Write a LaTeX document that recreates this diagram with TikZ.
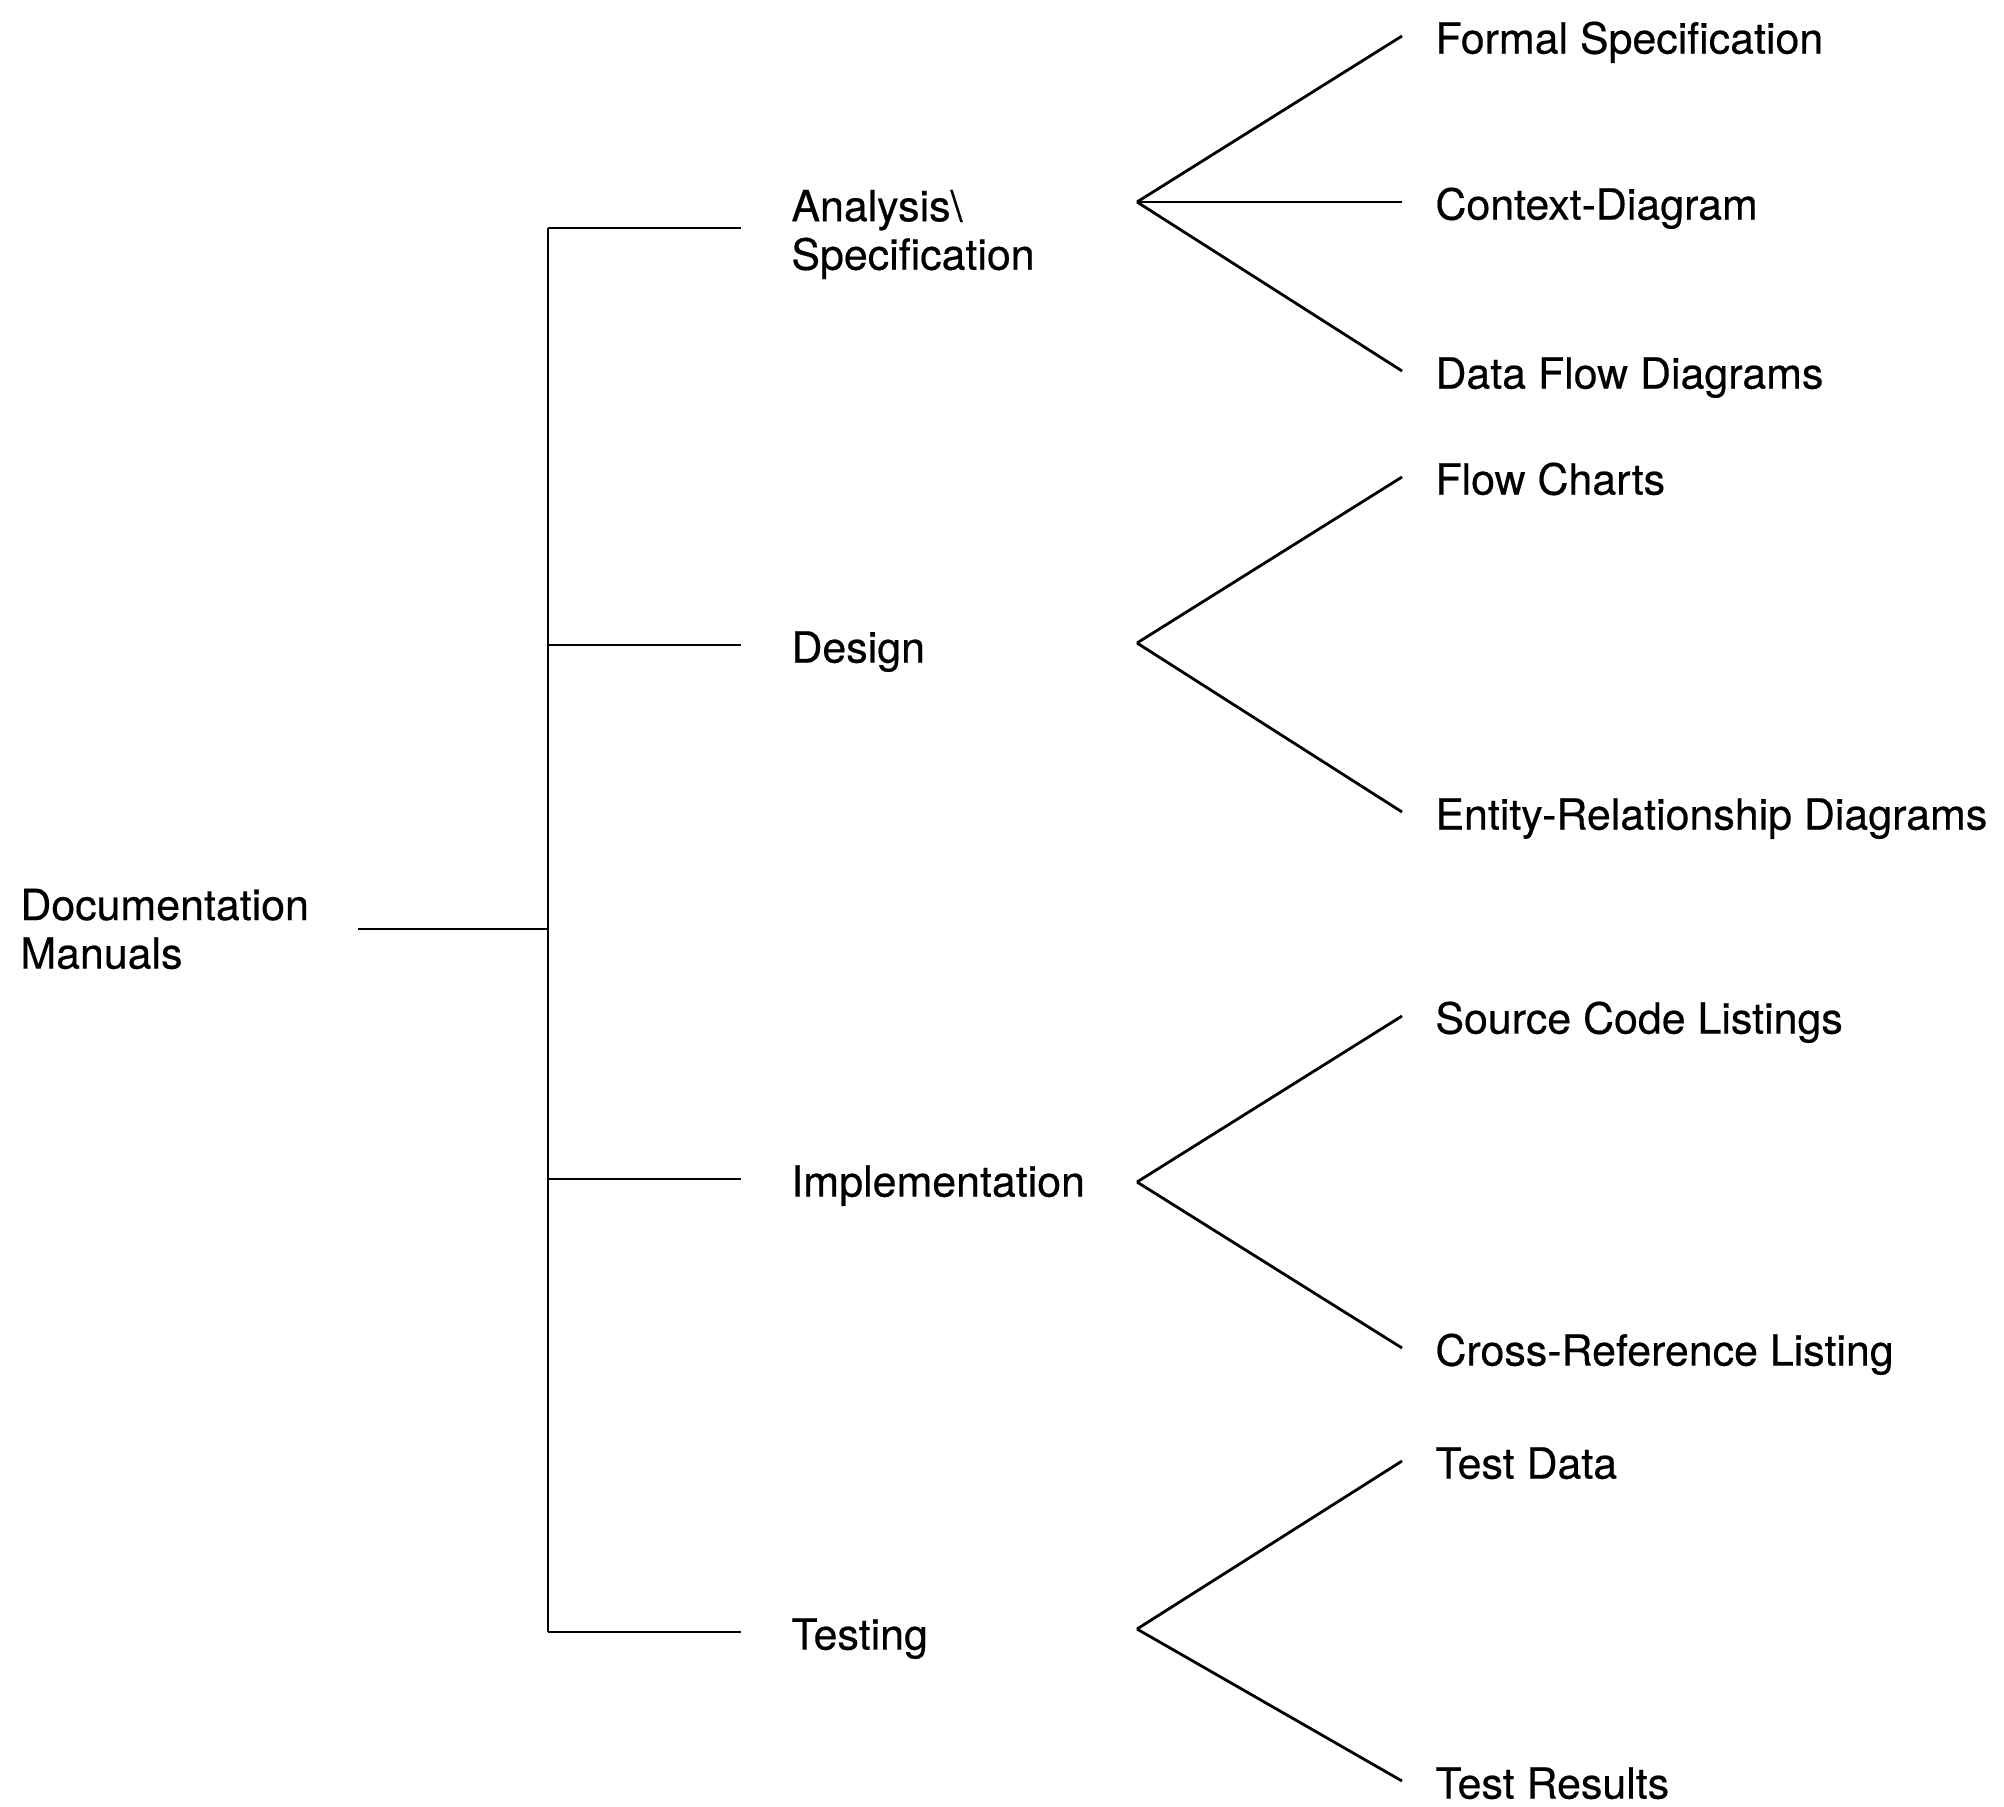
\documentclass[tikz,border=0pt]{standalone}
\usepackage{fontspec}
\setmainfont[FakeBold=0.4]{TeX Gyre Heros}

\begin{document}
\begin{tikzpicture}[x=0.01cm, y=-0.01cm, line width=0.8pt,
    txt/.style={anchor=west, inner ysep=0pt, align=left,
        font=\fontsize{12.2}{13.8}\selectfont},
    one/.style={txt, text height=10pt, text depth=0pt},
    mid/.style={one, inner xsep=0.49cm},
    leaf/.style={one, inner xsep=0.32cm}]

    \useasboundingbox (0,0) rectangle (2004,1807);

    \node[txt, inner xsep=0pt] (doc) at (19,929) {Documentation\\Manuals};
    \coordinate (bus) at (548,929);

    \node[txt, inner xsep=0.49cm] (ana) at (741,228)
        {\rule{0pt}{12.6pt}Analysis\textbackslash\\Specification};
    \node[mid] (des) at (741,645) {Design};
    \node[mid] (imp) at (741,1179) {Implementation};
    \node[mid] (tst) at (741,1632) {Testing};

    \coordinate (ana-f) at (1137,202);
    \coordinate (des-f) at (1137,643);
    \coordinate (imp-f) at (1137,1182);
    \coordinate (tst-f) at (1137,1629);

    \node[leaf] (formal) at (1402,36) {Formal Specification};
    \node[leaf] (context) at (1402,202) {Context-Diagram};
    \node[leaf] (dfd) at (1402,371) {Data Flow Diagrams};
    \node[leaf] (flow) at (1402,477) {Flow Charts};
    \node[leaf] (erd) at (1402,812) {Entity-Relationship Diagrams};
    \node[leaf] (src) at (1402,1016) {Source Code Listings};
    \node[leaf] (xref) at (1402,1348) {Cross-Reference Listing};
    \node[leaf] (tdata) at (1402,1461) {Test Data};
    \node[leaf] (tres) at (1402,1781) {Test Results};

    \draw[shorten <=0.48cm] (doc.east |- bus) -- (bus);
    \draw (bus |- ana.west) -- (bus |- tst.west);
    \foreach \n in {ana,des,imp,tst}
        \draw (bus |- \n.west) -- (\n.west);

    \foreach \f/\l in {ana/formal,ana/context,ana/dfd,des/flow,des/erd,
                       imp/src,imp/xref,tst/tdata,tst/tres}
        \draw (\f-f) -- (\l.west);

\end{tikzpicture}
\end{document}
